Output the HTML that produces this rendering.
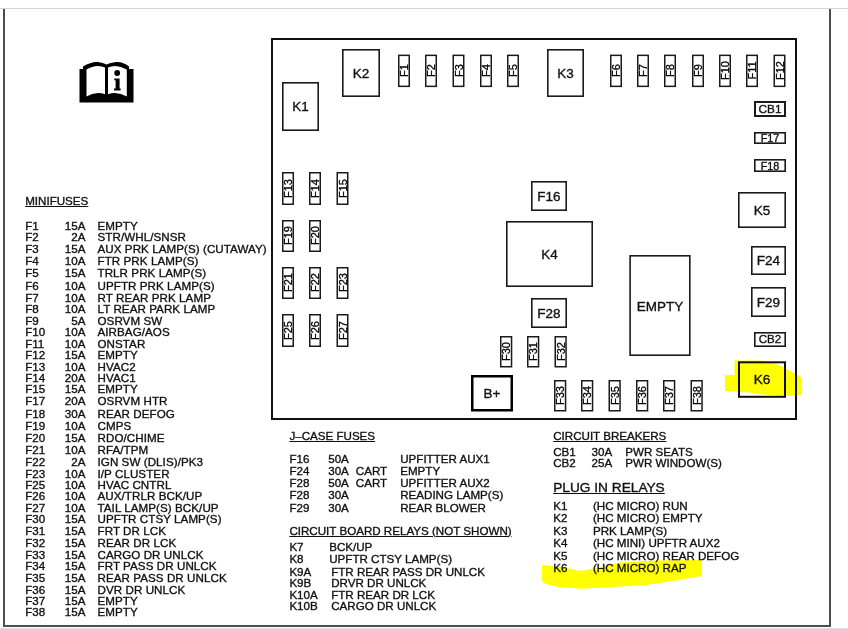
<!DOCTYPE html>
<html><head><meta charset="utf-8"><style>
html,body{margin:0;padding:0;background:#fff;}
body{width:848px;height:629px;position:relative;overflow:hidden;font-family:"Liberation Sans",sans-serif;color:#111;-webkit-text-stroke:0.35px #111;}
.t{position:absolute;white-space:nowrap;}
.d{letter-spacing:0.07px;}
.c{position:absolute;white-space:nowrap;text-align:center;}
.b{position:absolute;}
u{text-decoration:underline;text-decoration-thickness:1px;text-underline-offset:1px;}
</style></head><body>
<div id="w" style="position:absolute;left:0;top:0;width:848px;height:629px;will-change:transform">
<div style="position:absolute;left:0;top:8px;width:848px;height:1px;background:#d4d4d4"></div>
<div style="position:absolute;left:3px;top:9px;width:2px;height:618px;background:#4d4d4d"></div>
<div style="position:absolute;left:829px;top:9px;width:2px;height:618px;background:#4d4d4d"></div>
<div style="position:absolute;left:3px;top:625px;width:828px;height:2px;background:#4d4d4d"></div>
<div style="position:absolute;left:0;top:628px;width:848px;height:1px;background:#dde"></div>
<svg style="position:absolute;left:0;top:0" width="848" height="629"><g fill="#ffff00"><polygon points="725,375 734.5,375 734.5,360.5 760,360.5 772,362.5 782,366.5 791,371.5 802,377.5 802,395 787,396 762,394.5 748.5,392.5 737,391.5 725,391"/><polygon points="542,565 566,567.5 580,571 593,568.8 620,562.5 657,560.6 702,560 702,576 673,581 646,585 620,586.6 581,588.8 556,586.8 545.6,583.7 542,581.5"/></g></svg>
<svg style="position:absolute;left:0;top:0" width="848" height="629" fill="none"><rect x="272.00" y="39.00" width="524.00" height="380.00" stroke="#111" stroke-width="2"/><rect x="282.80" y="82.80" width="35.40" height="47.40" stroke="#1a1a1a" stroke-width="1.6"/><rect x="342.80" y="49.80" width="36.40" height="46.40" stroke="#1a1a1a" stroke-width="1.6"/><rect x="547.80" y="49.80" width="35.40" height="46.40" stroke="#1a1a1a" stroke-width="1.6"/><rect x="506.80" y="221.80" width="85.40" height="64.40" stroke="#1a1a1a" stroke-width="1.6"/><rect x="738.80" y="192.80" width="46.40" height="34.40" stroke="#1a1a1a" stroke-width="1.6"/><rect x="739.00" y="362.30" width="46.00" height="34.50" stroke="#111" stroke-width="2"/><rect x="531.80" y="181.80" width="34.40" height="28.40" stroke="#1a1a1a" stroke-width="1.6"/><rect x="531.80" y="298.80" width="34.40" height="28.40" stroke="#1a1a1a" stroke-width="1.6"/><rect x="751.80" y="246.80" width="33.40" height="27.40" stroke="#1a1a1a" stroke-width="1.6"/><rect x="751.80" y="287.80" width="33.40" height="28.40" stroke="#1a1a1a" stroke-width="1.6"/><rect x="630.10" y="255.80" width="59.70" height="99.40" stroke="#1a1a1a" stroke-width="1.6"/><rect x="472.25" y="376.25" width="39.50" height="34.00" stroke="#000" stroke-width="2.5"/><rect x="755.00" y="102.00" width="30.00" height="14.00" stroke="#1a1a1a" stroke-width="2"/><rect x="754.80" y="132.80" width="30.40" height="10.40" stroke="#1a1a1a" stroke-width="1.6"/><rect x="754.80" y="159.80" width="30.40" height="11.40" stroke="#1a1a1a" stroke-width="1.6"/><rect x="754.80" y="332.80" width="30.40" height="13.40" stroke="#1a1a1a" stroke-width="1.6"/><rect x="398.75" y="55.35" width="10.50" height="31.00" stroke="#1a1a1a" stroke-width="1.5"/><rect x="425.75" y="55.35" width="10.50" height="31.00" stroke="#1a1a1a" stroke-width="1.5"/><rect x="453.25" y="55.35" width="10.50" height="31.00" stroke="#1a1a1a" stroke-width="1.5"/><rect x="480.75" y="55.35" width="10.50" height="31.00" stroke="#1a1a1a" stroke-width="1.5"/><rect x="507.75" y="55.35" width="10.50" height="31.00" stroke="#1a1a1a" stroke-width="1.5"/><rect x="610.75" y="55.35" width="10.50" height="31.00" stroke="#1a1a1a" stroke-width="1.5"/><rect x="637.75" y="55.35" width="10.50" height="31.00" stroke="#1a1a1a" stroke-width="1.5"/><rect x="664.75" y="55.35" width="10.50" height="31.00" stroke="#1a1a1a" stroke-width="1.5"/><rect x="692.75" y="55.35" width="10.50" height="31.00" stroke="#1a1a1a" stroke-width="1.5"/><rect x="719.75" y="55.35" width="10.50" height="31.00" stroke="#1a1a1a" stroke-width="1.5"/><rect x="746.75" y="55.35" width="10.50" height="31.00" stroke="#1a1a1a" stroke-width="1.5"/><rect x="774.25" y="55.35" width="10.50" height="31.00" stroke="#1a1a1a" stroke-width="1.5"/><rect x="282.75" y="172.75" width="10.50" height="31.50" stroke="#1a1a1a" stroke-width="1.5"/><rect x="309.75" y="172.75" width="10.50" height="31.50" stroke="#1a1a1a" stroke-width="1.5"/><rect x="337.25" y="172.75" width="10.50" height="31.50" stroke="#1a1a1a" stroke-width="1.5"/><rect x="282.75" y="220.75" width="10.50" height="30.50" stroke="#1a1a1a" stroke-width="1.5"/><rect x="309.75" y="220.75" width="10.50" height="30.50" stroke="#1a1a1a" stroke-width="1.5"/><rect x="282.75" y="267.75" width="10.50" height="30.50" stroke="#1a1a1a" stroke-width="1.5"/><rect x="309.75" y="267.75" width="10.50" height="30.50" stroke="#1a1a1a" stroke-width="1.5"/><rect x="337.25" y="267.75" width="10.50" height="30.50" stroke="#1a1a1a" stroke-width="1.5"/><rect x="282.75" y="314.75" width="10.50" height="31.50" stroke="#1a1a1a" stroke-width="1.5"/><rect x="309.75" y="314.75" width="10.50" height="31.50" stroke="#1a1a1a" stroke-width="1.5"/><rect x="337.25" y="314.75" width="10.50" height="31.50" stroke="#1a1a1a" stroke-width="1.5"/><rect x="500.75" y="336.75" width="10.80" height="30.00" stroke="#1a1a1a" stroke-width="1.5"/><rect x="527.75" y="336.75" width="10.80" height="30.00" stroke="#1a1a1a" stroke-width="1.5"/><rect x="555.25" y="336.75" width="10.80" height="30.00" stroke="#1a1a1a" stroke-width="1.5"/><rect x="554.75" y="380.75" width="10.80" height="30.00" stroke="#1a1a1a" stroke-width="1.5"/><rect x="581.75" y="380.75" width="10.80" height="30.00" stroke="#1a1a1a" stroke-width="1.5"/><rect x="609.25" y="380.75" width="10.80" height="30.00" stroke="#1a1a1a" stroke-width="1.5"/><rect x="636.75" y="380.75" width="10.80" height="30.00" stroke="#1a1a1a" stroke-width="1.5"/><rect x="663.75" y="380.75" width="10.80" height="30.00" stroke="#1a1a1a" stroke-width="1.5"/><rect x="691.25" y="380.75" width="10.80" height="30.00" stroke="#1a1a1a" stroke-width="1.5"/></svg>
<div class="c" style="left:260.50px;top:100.35px;width:80px;font-size:13.5px;line-height:13.5px;">K1</div>
<div class="c" style="left:321.00px;top:66.85px;width:80px;font-size:13.5px;line-height:13.5px;">K2</div>
<div class="c" style="left:525.50px;top:66.85px;width:80px;font-size:13.5px;line-height:13.5px;">K3</div>
<div class="c" style="left:509.50px;top:247.85px;width:80px;font-size:13.5px;line-height:13.5px;">K4</div>
<div class="c" style="left:722.00px;top:203.85px;width:80px;font-size:13.5px;line-height:13.5px;">K5</div>
<div class="c" style="left:722.00px;top:373.40px;width:80px;font-size:13.5px;line-height:13.5px;">K6</div>
<div class="c" style="left:509.00px;top:189.85px;width:80px;font-size:13.5px;line-height:13.5px;">F16</div>
<div class="c" style="left:509.00px;top:306.85px;width:80px;font-size:13.5px;line-height:13.5px;">F28</div>
<div class="c" style="left:728.50px;top:254.35px;width:80px;font-size:13.5px;line-height:13.5px;">F24</div>
<div class="c" style="left:728.50px;top:295.85px;width:80px;font-size:13.5px;line-height:13.5px;">F29</div>
<div class="c" style="left:619.95px;top:299.75px;width:80px;font-size:13.5px;line-height:13.5px;">EMPTY</div>
<div class="c" style="left:452.00px;top:387.10px;width:80px;font-size:13.5px;line-height:13.5px;">B+</div>
<div class="c" style="left:730.00px;top:103.90px;width:80px;font-size:11.8px;line-height:11.8px;">CB1</div>
<div class="c" style="left:730.00px;top:133.00px;width:80px;font-size:10.8px;line-height:10.8px;">F17</div>
<div class="c" style="left:730.00px;top:160.50px;width:80px;font-size:10.8px;line-height:10.8px;">F18</div>
<div class="c" style="left:730.00px;top:334.35px;width:80px;font-size:11.5px;line-height:11.5px;">CB2</div>
<div class="c" style="left:374.00px;top:64.85px;width:60px;font-size:11px;line-height:11px;transform:rotate(-90deg);-webkit-text-stroke:0.3px #000;color:#000;">F1</div>
<div class="c" style="left:401.00px;top:64.85px;width:60px;font-size:11px;line-height:11px;transform:rotate(-90deg);-webkit-text-stroke:0.3px #000;color:#000;">F2</div>
<div class="c" style="left:428.50px;top:64.85px;width:60px;font-size:11px;line-height:11px;transform:rotate(-90deg);-webkit-text-stroke:0.3px #000;color:#000;">F3</div>
<div class="c" style="left:456.00px;top:64.85px;width:60px;font-size:11px;line-height:11px;transform:rotate(-90deg);-webkit-text-stroke:0.3px #000;color:#000;">F4</div>
<div class="c" style="left:483.00px;top:64.85px;width:60px;font-size:11px;line-height:11px;transform:rotate(-90deg);-webkit-text-stroke:0.3px #000;color:#000;">F5</div>
<div class="c" style="left:586.00px;top:64.85px;width:60px;font-size:11px;line-height:11px;transform:rotate(-90deg);-webkit-text-stroke:0.3px #000;color:#000;">F6</div>
<div class="c" style="left:613.00px;top:64.85px;width:60px;font-size:11px;line-height:11px;transform:rotate(-90deg);-webkit-text-stroke:0.3px #000;color:#000;">F7</div>
<div class="c" style="left:640.00px;top:64.85px;width:60px;font-size:11px;line-height:11px;transform:rotate(-90deg);-webkit-text-stroke:0.3px #000;color:#000;">F8</div>
<div class="c" style="left:668.00px;top:64.85px;width:60px;font-size:11px;line-height:11px;transform:rotate(-90deg);-webkit-text-stroke:0.3px #000;color:#000;">F9</div>
<div class="c" style="left:695.00px;top:64.85px;width:60px;font-size:11px;line-height:11px;transform:rotate(-90deg);-webkit-text-stroke:0.3px #000;color:#000;">F10</div>
<div class="c" style="left:722.00px;top:64.85px;width:60px;font-size:11px;line-height:11px;transform:rotate(-90deg);-webkit-text-stroke:0.3px #000;color:#000;">F11</div>
<div class="c" style="left:749.50px;top:64.85px;width:60px;font-size:11px;line-height:11px;transform:rotate(-90deg);-webkit-text-stroke:0.3px #000;color:#000;">F12</div>
<div class="c" style="left:258.00px;top:182.50px;width:60px;font-size:11px;line-height:11px;transform:rotate(-90deg);-webkit-text-stroke:0.3px #000;color:#000;">F13</div>
<div class="c" style="left:285.00px;top:182.50px;width:60px;font-size:11px;line-height:11px;transform:rotate(-90deg);-webkit-text-stroke:0.3px #000;color:#000;">F14</div>
<div class="c" style="left:312.50px;top:182.50px;width:60px;font-size:11px;line-height:11px;transform:rotate(-90deg);-webkit-text-stroke:0.3px #000;color:#000;">F15</div>
<div class="c" style="left:258.00px;top:230.00px;width:60px;font-size:11px;line-height:11px;transform:rotate(-90deg);-webkit-text-stroke:0.3px #000;color:#000;">F19</div>
<div class="c" style="left:285.00px;top:230.00px;width:60px;font-size:11px;line-height:11px;transform:rotate(-90deg);-webkit-text-stroke:0.3px #000;color:#000;">F20</div>
<div class="c" style="left:258.00px;top:277.00px;width:60px;font-size:11px;line-height:11px;transform:rotate(-90deg);-webkit-text-stroke:0.3px #000;color:#000;">F21</div>
<div class="c" style="left:285.00px;top:277.00px;width:60px;font-size:11px;line-height:11px;transform:rotate(-90deg);-webkit-text-stroke:0.3px #000;color:#000;">F22</div>
<div class="c" style="left:312.50px;top:277.00px;width:60px;font-size:11px;line-height:11px;transform:rotate(-90deg);-webkit-text-stroke:0.3px #000;color:#000;">F23</div>
<div class="c" style="left:258.00px;top:324.50px;width:60px;font-size:11px;line-height:11px;transform:rotate(-90deg);-webkit-text-stroke:0.3px #000;color:#000;">F25</div>
<div class="c" style="left:285.00px;top:324.50px;width:60px;font-size:11px;line-height:11px;transform:rotate(-90deg);-webkit-text-stroke:0.3px #000;color:#000;">F26</div>
<div class="c" style="left:312.50px;top:324.50px;width:60px;font-size:11px;line-height:11px;transform:rotate(-90deg);-webkit-text-stroke:0.3px #000;color:#000;">F27</div>
<div class="c" style="left:476.15px;top:345.75px;width:60px;font-size:11px;line-height:11px;transform:rotate(-90deg);-webkit-text-stroke:0.3px #000;color:#000;">F30</div>
<div class="c" style="left:503.15px;top:345.75px;width:60px;font-size:11px;line-height:11px;transform:rotate(-90deg);-webkit-text-stroke:0.3px #000;color:#000;">F31</div>
<div class="c" style="left:530.65px;top:345.75px;width:60px;font-size:11px;line-height:11px;transform:rotate(-90deg);-webkit-text-stroke:0.3px #000;color:#000;">F32</div>
<div class="c" style="left:530.15px;top:389.75px;width:60px;font-size:11px;line-height:11px;transform:rotate(-90deg);-webkit-text-stroke:0.3px #000;color:#000;">F33</div>
<div class="c" style="left:557.15px;top:389.75px;width:60px;font-size:11px;line-height:11px;transform:rotate(-90deg);-webkit-text-stroke:0.3px #000;color:#000;">F34</div>
<div class="c" style="left:584.65px;top:389.75px;width:60px;font-size:11px;line-height:11px;transform:rotate(-90deg);-webkit-text-stroke:0.3px #000;color:#000;">F35</div>
<div class="c" style="left:612.15px;top:389.75px;width:60px;font-size:11px;line-height:11px;transform:rotate(-90deg);-webkit-text-stroke:0.3px #000;color:#000;">F36</div>
<div class="c" style="left:639.15px;top:389.75px;width:60px;font-size:11px;line-height:11px;transform:rotate(-90deg);-webkit-text-stroke:0.3px #000;color:#000;">F37</div>
<div class="c" style="left:666.65px;top:389.75px;width:60px;font-size:11px;line-height:11px;transform:rotate(-90deg);-webkit-text-stroke:0.3px #000;color:#000;">F38</div>
<svg style="position:absolute;left:0;top:0" width="848" height="629">
<path fill="#000" d="M79.5,69 L83,69 L83,66.5 Q91,61.5 98,62 Q103,62.5 106.5,64.6 Q110,62.5 116,62 Q123,61.5 129,66.5 L129,69 L133.5,69 L133.5,102.5 L79.5,102.5 Z"/>
<path fill="#fff" d="M86.5,69.5 Q92,66 98,66 Q102,66.3 105,67.5 L105,94.3 Q102,93 98,93 Q92,93.2 86.5,96.6 Z"/>
<path fill="#fff" d="M108,67.5 Q111,66.3 115,66 Q121,66 126.8,69.5 L126.8,96.6 Q121,93.2 115,93 Q111,93 108,94.3 Z"/>
<circle cx="117.2" cy="73" r="2.9" fill="#000"/>
<path fill="#000" d="M114.3,78.6 L119.6,78.6 L119.6,88.6 L120.6,88.6 L120.6,90.4 L114,90.4 L114,88.6 L115.6,88.6 L115.6,80.2 L114.3,80.2 Z"/>
</svg>
<div class="t" style="left:25.20px;top:195.48px;font-size:11.6px;line-height:11.6px;"><u>MINIFUSES</u></div>
<div class="t" style="left:25.20px;top:219.78px;font-size:11.6px;line-height:11.6px;">F1</div>
<div class="t" style="left:35px;top:219.78px;width:50.5px;text-align:right;font-size:11.6px;line-height:11.6px">15A</div>
<div class="t d" style="left:97.50px;top:219.78px;font-size:11.6px;line-height:11.6px;">EMPTY</div>
<div class="t" style="left:25.20px;top:231.28px;font-size:11.6px;line-height:11.6px;">F2</div>
<div class="t" style="left:35px;top:231.28px;width:50.5px;text-align:right;font-size:11.6px;line-height:11.6px">2A</div>
<div class="t d" style="left:97.50px;top:231.28px;font-size:11.6px;line-height:11.6px;">STR/WHL/SNSR</div>
<div class="t" style="left:25.20px;top:242.68px;font-size:11.6px;line-height:11.6px;">F3</div>
<div class="t" style="left:35px;top:242.68px;width:50.5px;text-align:right;font-size:11.6px;line-height:11.6px">15A</div>
<div class="t d" style="left:97.50px;top:242.68px;font-size:11.6px;line-height:11.6px;">AUX PRK LAMP(S) (CUTAWAY)</div>
<div class="t" style="left:25.20px;top:254.78px;font-size:11.6px;line-height:11.6px;">F4</div>
<div class="t" style="left:35px;top:254.78px;width:50.5px;text-align:right;font-size:11.6px;line-height:11.6px">10A</div>
<div class="t d" style="left:97.50px;top:254.78px;font-size:11.6px;line-height:11.6px;">FTR PRK LAMP(S)</div>
<div class="t" style="left:25.20px;top:267.18px;font-size:11.6px;line-height:11.6px;">F5</div>
<div class="t" style="left:35px;top:267.18px;width:50.5px;text-align:right;font-size:11.6px;line-height:11.6px">15A</div>
<div class="t d" style="left:97.50px;top:267.18px;font-size:11.6px;line-height:11.6px;">TRLR PRK LAMP(S)</div>
<div class="t" style="left:25.20px;top:279.98px;font-size:11.6px;line-height:11.6px;">F6</div>
<div class="t" style="left:35px;top:279.98px;width:50.5px;text-align:right;font-size:11.6px;line-height:11.6px">10A</div>
<div class="t d" style="left:97.50px;top:279.98px;font-size:11.6px;line-height:11.6px;">UPFTR PRK LAMP(S)</div>
<div class="t" style="left:25.20px;top:292.08px;font-size:11.6px;line-height:11.6px;">F7</div>
<div class="t" style="left:35px;top:292.08px;width:50.5px;text-align:right;font-size:11.6px;line-height:11.6px">10A</div>
<div class="t d" style="left:97.50px;top:292.08px;font-size:11.6px;line-height:11.6px;">RT REAR PRK LAMP</div>
<div class="t" style="left:25.20px;top:302.88px;font-size:11.6px;line-height:11.6px;">F8</div>
<div class="t" style="left:35px;top:302.88px;width:50.5px;text-align:right;font-size:11.6px;line-height:11.6px">10A</div>
<div class="t d" style="left:97.50px;top:302.88px;font-size:11.6px;line-height:11.6px;">LT REAR PARK LAMP</div>
<div class="t" style="left:25.20px;top:314.58px;font-size:11.6px;line-height:11.6px;">F9</div>
<div class="t" style="left:35px;top:314.58px;width:50.5px;text-align:right;font-size:11.6px;line-height:11.6px">5A</div>
<div class="t d" style="left:97.50px;top:314.58px;font-size:11.6px;line-height:11.6px;">OSRVM SW</div>
<div class="t" style="left:25.20px;top:326.08px;font-size:11.6px;line-height:11.6px;">F10</div>
<div class="t" style="left:35px;top:326.08px;width:50.5px;text-align:right;font-size:11.6px;line-height:11.6px">10A</div>
<div class="t d" style="left:97.50px;top:326.08px;font-size:11.6px;line-height:11.6px;">AIRBAG/AOS</div>
<div class="t" style="left:25.20px;top:337.88px;font-size:11.6px;line-height:11.6px;">F11</div>
<div class="t" style="left:35px;top:337.88px;width:50.5px;text-align:right;font-size:11.6px;line-height:11.6px">10A</div>
<div class="t d" style="left:97.50px;top:337.88px;font-size:11.6px;line-height:11.6px;">ONSTAR</div>
<div class="t" style="left:25.20px;top:348.98px;font-size:11.6px;line-height:11.6px;">F12</div>
<div class="t" style="left:35px;top:348.98px;width:50.5px;text-align:right;font-size:11.6px;line-height:11.6px">15A</div>
<div class="t d" style="left:97.50px;top:348.98px;font-size:11.6px;line-height:11.6px;">EMPTY</div>
<div class="t" style="left:25.20px;top:360.68px;font-size:11.6px;line-height:11.6px;">F13</div>
<div class="t" style="left:35px;top:360.68px;width:50.5px;text-align:right;font-size:11.6px;line-height:11.6px">10A</div>
<div class="t d" style="left:97.50px;top:360.68px;font-size:11.6px;line-height:11.6px;">HVAC2</div>
<div class="t" style="left:25.20px;top:371.88px;font-size:11.6px;line-height:11.6px;">F14</div>
<div class="t" style="left:35px;top:371.88px;width:50.5px;text-align:right;font-size:11.6px;line-height:11.6px">20A</div>
<div class="t d" style="left:97.50px;top:371.88px;font-size:11.6px;line-height:11.6px;">HVAC1</div>
<div class="t" style="left:25.20px;top:383.38px;font-size:11.6px;line-height:11.6px;">F15</div>
<div class="t" style="left:35px;top:383.38px;width:50.5px;text-align:right;font-size:11.6px;line-height:11.6px">15A</div>
<div class="t d" style="left:97.50px;top:383.38px;font-size:11.6px;line-height:11.6px;">EMPTY</div>
<div class="t" style="left:25.20px;top:395.48px;font-size:11.6px;line-height:11.6px;">F17</div>
<div class="t" style="left:35px;top:395.48px;width:50.5px;text-align:right;font-size:11.6px;line-height:11.6px">20A</div>
<div class="t d" style="left:97.50px;top:395.48px;font-size:11.6px;line-height:11.6px;">OSRVM HTR</div>
<div class="t" style="left:25.20px;top:408.18px;font-size:11.6px;line-height:11.6px;">F18</div>
<div class="t" style="left:35px;top:408.18px;width:50.5px;text-align:right;font-size:11.6px;line-height:11.6px">30A</div>
<div class="t d" style="left:97.50px;top:408.18px;font-size:11.6px;line-height:11.6px;">REAR DEFOG</div>
<div class="t" style="left:25.20px;top:419.98px;font-size:11.6px;line-height:11.6px;">F19</div>
<div class="t" style="left:35px;top:419.98px;width:50.5px;text-align:right;font-size:11.6px;line-height:11.6px">10A</div>
<div class="t d" style="left:97.50px;top:419.98px;font-size:11.6px;line-height:11.6px;">CMPS</div>
<div class="t" style="left:25.20px;top:432.38px;font-size:11.6px;line-height:11.6px;">F20</div>
<div class="t" style="left:35px;top:432.38px;width:50.5px;text-align:right;font-size:11.6px;line-height:11.6px">15A</div>
<div class="t d" style="left:97.50px;top:432.38px;font-size:11.6px;line-height:11.6px;">RDO/CHIME</div>
<div class="t" style="left:25.20px;top:443.78px;font-size:11.6px;line-height:11.6px;">F21</div>
<div class="t" style="left:35px;top:443.78px;width:50.5px;text-align:right;font-size:11.6px;line-height:11.6px">10A</div>
<div class="t d" style="left:97.50px;top:443.78px;font-size:11.6px;line-height:11.6px;">RFA/TPM</div>
<div class="t" style="left:25.20px;top:455.68px;font-size:11.6px;line-height:11.6px;">F22</div>
<div class="t" style="left:35px;top:455.68px;width:50.5px;text-align:right;font-size:11.6px;line-height:11.6px">2A</div>
<div class="t d" style="left:97.50px;top:455.68px;font-size:11.6px;line-height:11.6px;">IGN SW (DLIS)/PK3</div>
<div class="t" style="left:25.20px;top:467.98px;font-size:11.6px;line-height:11.6px;">F23</div>
<div class="t" style="left:35px;top:467.98px;width:50.5px;text-align:right;font-size:11.6px;line-height:11.6px">10A</div>
<div class="t d" style="left:97.50px;top:467.98px;font-size:11.6px;line-height:11.6px;">I/P CLUSTER</div>
<div class="t" style="left:25.20px;top:478.78px;font-size:11.6px;line-height:11.6px;">F25</div>
<div class="t" style="left:35px;top:478.78px;width:50.5px;text-align:right;font-size:11.6px;line-height:11.6px">10A</div>
<div class="t d" style="left:97.50px;top:478.78px;font-size:11.6px;line-height:11.6px;">HVAC CNTRL</div>
<div class="t" style="left:25.20px;top:489.98px;font-size:11.6px;line-height:11.6px;">F26</div>
<div class="t" style="left:35px;top:489.98px;width:50.5px;text-align:right;font-size:11.6px;line-height:11.6px">10A</div>
<div class="t d" style="left:97.50px;top:489.98px;font-size:11.6px;line-height:11.6px;">AUX/TRLR BCK/UP</div>
<div class="t" style="left:25.20px;top:501.68px;font-size:11.6px;line-height:11.6px;">F27</div>
<div class="t" style="left:35px;top:501.68px;width:50.5px;text-align:right;font-size:11.6px;line-height:11.6px">10A</div>
<div class="t d" style="left:97.50px;top:501.68px;font-size:11.6px;line-height:11.6px;">TAIL LAMP(S) BCK/UP</div>
<div class="t" style="left:25.20px;top:513.38px;font-size:11.6px;line-height:11.6px;">F30</div>
<div class="t" style="left:35px;top:513.38px;width:50.5px;text-align:right;font-size:11.6px;line-height:11.6px">15A</div>
<div class="t d" style="left:97.50px;top:513.38px;font-size:11.6px;line-height:11.6px;">UPFTR CTSY LAMP(S)</div>
<div class="t" style="left:25.20px;top:525.28px;font-size:11.6px;line-height:11.6px;">F31</div>
<div class="t" style="left:35px;top:525.28px;width:50.5px;text-align:right;font-size:11.6px;line-height:11.6px">15A</div>
<div class="t d" style="left:97.50px;top:525.28px;font-size:11.6px;line-height:11.6px;">FRT DR LCK</div>
<div class="t" style="left:25.20px;top:537.38px;font-size:11.6px;line-height:11.6px;">F32</div>
<div class="t" style="left:35px;top:537.38px;width:50.5px;text-align:right;font-size:11.6px;line-height:11.6px">15A</div>
<div class="t d" style="left:97.50px;top:537.38px;font-size:11.6px;line-height:11.6px;">REAR DR LCK</div>
<div class="t" style="left:25.20px;top:548.78px;font-size:11.6px;line-height:11.6px;">F33</div>
<div class="t" style="left:35px;top:548.78px;width:50.5px;text-align:right;font-size:11.6px;line-height:11.6px">15A</div>
<div class="t d" style="left:97.50px;top:548.78px;font-size:11.6px;line-height:11.6px;">CARGO DR UNLCK</div>
<div class="t" style="left:25.20px;top:560.28px;font-size:11.6px;line-height:11.6px;">F34</div>
<div class="t" style="left:35px;top:560.28px;width:50.5px;text-align:right;font-size:11.6px;line-height:11.6px">15A</div>
<div class="t d" style="left:97.50px;top:560.28px;font-size:11.6px;line-height:11.6px;">FRT PASS DR UNLCK</div>
<div class="t" style="left:25.20px;top:572.28px;font-size:11.6px;line-height:11.6px;">F35</div>
<div class="t" style="left:35px;top:572.28px;width:50.5px;text-align:right;font-size:11.6px;line-height:11.6px">15A</div>
<div class="t d" style="left:97.50px;top:572.28px;font-size:11.6px;line-height:11.6px;">REAR PASS DR UNLCK</div>
<div class="t" style="left:25.20px;top:583.58px;font-size:11.6px;line-height:11.6px;">F36</div>
<div class="t" style="left:35px;top:583.58px;width:50.5px;text-align:right;font-size:11.6px;line-height:11.6px">15A</div>
<div class="t d" style="left:97.50px;top:583.58px;font-size:11.6px;line-height:11.6px;">DVR DR UNLCK</div>
<div class="t" style="left:25.20px;top:594.88px;font-size:11.6px;line-height:11.6px;">F37</div>
<div class="t" style="left:35px;top:594.88px;width:50.5px;text-align:right;font-size:11.6px;line-height:11.6px">15A</div>
<div class="t d" style="left:97.50px;top:594.88px;font-size:11.6px;line-height:11.6px;">EMPTY</div>
<div class="t" style="left:25.20px;top:606.38px;font-size:11.6px;line-height:11.6px;">F38</div>
<div class="t" style="left:35px;top:606.38px;width:50.5px;text-align:right;font-size:11.6px;line-height:11.6px">15A</div>
<div class="t d" style="left:97.50px;top:606.38px;font-size:11.6px;line-height:11.6px;">EMPTY</div>
<div class="t" style="left:289.40px;top:430.48px;font-size:11.6px;line-height:11.6px;"><u>J–CASE FUSES</u></div>
<div class="t" style="left:289.40px;top:453.38px;font-size:11.6px;line-height:11.6px;">F16</div>
<div class="t" style="left:328.20px;top:453.38px;font-size:11.6px;line-height:11.6px;">50A</div>
<div class="t" style="left:400.20px;top:453.38px;font-size:11.6px;line-height:11.6px;">UPFITTER AUX1</div>
<div class="t" style="left:289.40px;top:464.78px;font-size:11.6px;line-height:11.6px;">F24</div>
<div class="t" style="left:328.20px;top:464.78px;font-size:11.6px;line-height:11.6px;">30A</div>
<div class="t" style="left:355.80px;top:464.78px;font-size:11.6px;line-height:11.6px;">CART</div>
<div class="t" style="left:400.20px;top:464.78px;font-size:11.6px;line-height:11.6px;">EMPTY</div>
<div class="t" style="left:289.40px;top:476.88px;font-size:11.6px;line-height:11.6px;">F28</div>
<div class="t" style="left:328.20px;top:476.88px;font-size:11.6px;line-height:11.6px;">50A</div>
<div class="t" style="left:355.80px;top:476.88px;font-size:11.6px;line-height:11.6px;">CART</div>
<div class="t" style="left:400.20px;top:476.88px;font-size:11.6px;line-height:11.6px;">UPFITTER AUX2</div>
<div class="t" style="left:289.40px;top:488.98px;font-size:11.6px;line-height:11.6px;">F28</div>
<div class="t" style="left:328.20px;top:488.98px;font-size:11.6px;line-height:11.6px;">30A</div>
<div class="t" style="left:400.20px;top:488.98px;font-size:11.6px;line-height:11.6px;">READING LAMP(S)</div>
<div class="t" style="left:289.40px;top:502.38px;font-size:11.6px;line-height:11.6px;">F29</div>
<div class="t" style="left:328.20px;top:502.38px;font-size:11.6px;line-height:11.6px;">30A</div>
<div class="t" style="left:400.20px;top:502.38px;font-size:11.6px;line-height:11.6px;">REAR BLOWER</div>
<div class="t" style="left:289.40px;top:524.88px;font-size:11.6px;line-height:11.6px;"><u>CIRCUIT BOARD RELAYS (NOT SHOWN)</u></div>
<div class="t" style="left:289.40px;top:541.18px;font-size:11.6px;line-height:11.6px;">K7</div>
<div class="t" style="left:329.20px;top:541.18px;font-size:11.6px;line-height:11.6px;">BCK/UP</div>
<div class="t" style="left:289.40px;top:552.68px;font-size:11.6px;line-height:11.6px;">K8</div>
<div class="t" style="left:329.20px;top:552.68px;font-size:11.6px;line-height:11.6px;">UPFTR CTSY LAMP(S)</div>
<div class="t" style="left:289.40px;top:566.38px;font-size:11.6px;line-height:11.6px;">K9A</div>
<div class="t" style="left:331.20px;top:566.38px;font-size:11.6px;line-height:11.6px;">FTR REAR PASS DR UNLCK</div>
<div class="t" style="left:289.40px;top:577.28px;font-size:11.6px;line-height:11.6px;">K9B</div>
<div class="t" style="left:331.20px;top:577.28px;font-size:11.6px;line-height:11.6px;">DRVR DR UNLCK</div>
<div class="t" style="left:289.40px;top:588.58px;font-size:11.6px;line-height:11.6px;">K10A</div>
<div class="t" style="left:331.20px;top:588.58px;font-size:11.6px;line-height:11.6px;">FTR REAR DR LCK</div>
<div class="t" style="left:289.40px;top:599.98px;font-size:11.6px;line-height:11.6px;">K10B</div>
<div class="t" style="left:331.20px;top:599.98px;font-size:11.6px;line-height:11.6px;">CARGO DR UNLCK</div>
<div class="t" style="left:553.20px;top:430.48px;font-size:11.6px;line-height:11.6px;"><u>CIRCUIT BREAKERS</u></div>
<div class="t" style="left:553.20px;top:445.68px;font-size:11.6px;line-height:11.6px;">CB1</div>
<div class="t" style="left:591.60px;top:445.68px;font-size:11.6px;line-height:11.6px;">30A</div>
<div class="t" style="left:625.30px;top:445.68px;font-size:11.6px;line-height:11.6px;">PWR SEATS</div>
<div class="t" style="left:553.20px;top:456.88px;font-size:11.6px;line-height:11.6px;">CB2</div>
<div class="t" style="left:591.60px;top:456.88px;font-size:11.6px;line-height:11.6px;">25A</div>
<div class="t" style="left:625.30px;top:456.88px;font-size:11.6px;line-height:11.6px;">PWR WINDOW(S)</div>
<div class="t" style="left:553.20px;top:480.70px;font-size:13.7px;line-height:13.7px;"><u>PLUG IN RELAYS</u></div>
<div class="t" style="left:553.20px;top:500.18px;font-size:11.6px;line-height:11.6px;">K1</div>
<div class="t" style="left:593.00px;top:500.18px;font-size:11.6px;line-height:11.6px;">(HC MICRO) RUN</div>
<div class="t" style="left:553.20px;top:512.38px;font-size:11.6px;line-height:11.6px;">K2</div>
<div class="t" style="left:593.00px;top:512.38px;font-size:11.6px;line-height:11.6px;">(HC MICRO) EMPTY</div>
<div class="t" style="left:553.20px;top:524.98px;font-size:11.6px;line-height:11.6px;">K3</div>
<div class="t" style="left:593.00px;top:524.98px;font-size:11.6px;line-height:11.6px;">PRK LAMP(S)</div>
<div class="t" style="left:553.20px;top:537.38px;font-size:11.6px;line-height:11.6px;">K4</div>
<div class="t" style="left:593.00px;top:537.38px;font-size:11.6px;line-height:11.6px;">(HC MINI) UPFTR AUX2</div>
<div class="t" style="left:553.20px;top:549.58px;font-size:11.6px;line-height:11.6px;">K5</div>
<div class="t" style="left:593.00px;top:549.58px;font-size:11.6px;line-height:11.6px;">(HC MICRO) REAR DEFOG</div>
<div class="t" style="left:553.20px;top:562.48px;font-size:11.6px;line-height:11.6px;">K6</div>
<div class="t" style="left:593.00px;top:562.48px;font-size:11.6px;line-height:11.6px;">(HC MICRO) RAP</div>
</div>
</body></html>
